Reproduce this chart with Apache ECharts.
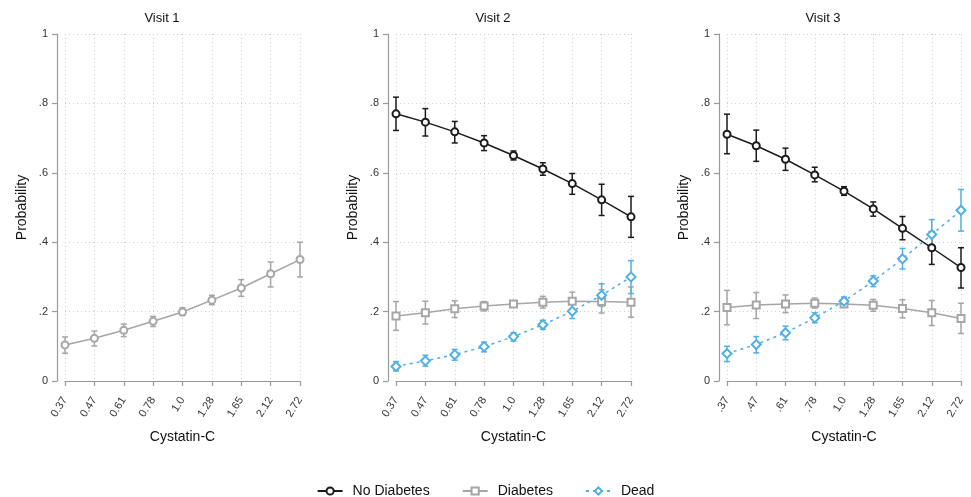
<!DOCTYPE html>
<html>
<head>
<meta charset="utf-8">
<script src="https://cdn.jsdelivr.net/npm/echarts@6/dist/echarts.min.js"></script>
<style>
html,body{margin:0;padding:0;background:#fff;}
#chart{width:971px;height:497px;}
</style>
</head>
<body>
<div id="chart"></div>
<script>
// ---- Data ----
const catsV12 = ['0.37','0.47','0.61','0.78','1.0','1.28','1.65','2.12','2.72'];
const catsV3  = ['.37','.47','.61','.78','1.0','1.28','1.65','2.12','2.72'];
const yTickLabels = ['0','.2','.4','.6','.8','1'];
const panelTitles = ['Visit 1','Visit 2','Visit 3'];
const seriesNames = ['No Diabetes','Diabetes','Dead'];

// Visit 1 (single grey series)
const v1Est  = [0.104,0.123,0.146,0.172,0.199,0.233,0.268,0.309,0.350];
const v1Low  = [0.080,0.101,0.128,0.157,0.189,0.220,0.244,0.271,0.300];
const v1High = [0.127,0.144,0.164,0.186,0.211,0.247,0.292,0.343,0.400];

// Visit 2
const v2NoDiabEst  = [0.770,0.746,0.718,0.686,0.650,0.611,0.569,0.522,0.473];
const v2NoDiabLow  = [0.722,0.706,0.686,0.664,0.637,0.593,0.538,0.477,0.414];
const v2NoDiabHigh = [0.818,0.785,0.748,0.707,0.663,0.629,0.598,0.567,0.532];
const v2DiabEst    = [0.187,0.197,0.208,0.216,0.222,0.227,0.230,0.229,0.227];
const v2DiabLow    = [0.146,0.164,0.183,0.202,0.214,0.210,0.204,0.196,0.184];
const v2DiabHigh   = [0.229,0.230,0.231,0.229,0.231,0.244,0.256,0.263,0.271];
const v2DeadEst    = [0.042,0.058,0.076,0.099,0.128,0.162,0.201,0.247,0.300];
const v2DeadLow    = [0.029,0.043,0.060,0.084,0.115,0.149,0.180,0.216,0.252];
const v2DeadHigh   = [0.056,0.074,0.091,0.112,0.139,0.175,0.223,0.280,0.347];

// Visit 3
const v3NoDiabEst  = [0.711,0.678,0.639,0.594,0.547,0.496,0.440,0.384,0.327];
const v3NoDiabLow  = [0.655,0.633,0.607,0.574,0.535,0.475,0.407,0.336,0.268];
const v3NoDiabHigh = [0.769,0.723,0.671,0.616,0.560,0.516,0.474,0.430,0.384];
const v3DiabEst    = [0.212,0.219,0.222,0.224,0.222,0.218,0.209,0.197,0.180];
const v3DiabLow    = [0.162,0.180,0.197,0.210,0.214,0.201,0.182,0.160,0.137];
const v3DiabHigh   = [0.261,0.255,0.248,0.239,0.230,0.235,0.234,0.232,0.224];
const v3DeadEst    = [0.079,0.105,0.139,0.182,0.230,0.288,0.352,0.422,0.492];
const v3DeadLow    = [0.056,0.081,0.119,0.168,0.218,0.272,0.323,0.379,0.432];
const v3DeadHigh   = [0.100,0.128,0.158,0.197,0.242,0.303,0.382,0.465,0.552];

// ---- Styles ----
const COL_BLACK = '#1b1b1b';
const COL_GREY  = '#a6a6a6';
const COL_BLUE  = '#4fb0e6';
const AXIS_COL  = '#9a9a9a';
const TEXT_COL  = '#333333';
const FONT = 'Liberation Sans, Arial, sans-serif';

const panels = [
  {left: 65,  width: 235, titleX: 157, cats: catsV12},
  {left: 396, width: 235, titleX: 488, cats: catsV12},
  {left: 727, width: 234, titleX: 818, cats: catsV3}
];

const grids = [], xAxes = [], yAxes = [], titles = [];
panels.forEach((p, i) => {
  grids.push({left: p.left, width: p.width, top: 34, bottom: 116, containLabel: false});
  titles.push({
    text: panelTitles[i], left: p.titleX, top: 7, textAlign: 'center',
    textStyle: {fontFamily: FONT, fontSize: 13, fontWeight: 'normal', color: '#111'}
  });
  xAxes.push({
    gridIndex: i, type: 'category', data: p.cats, boundaryGap: false, offset: 8,
    name: 'Cystatin-C', nameLocation: 'middle', nameGap: 41,
    nameTextStyle: {fontFamily: FONT, fontSize: 14, color: '#111'},
    axisLine: {show: true, lineStyle: {color: AXIS_COL, width: 1.2}},
    axisTick: {show: true, length: 5, alignWithLabel: true, lineStyle: {color: AXIS_COL, width: 1.2}},
    axisLabel: {rotate: 58, fontFamily: FONT, fontSize: 11, color: TEXT_COL, margin: 9, interval: 0},
    splitLine: {show: true, lineStyle: {color: '#d0d0d0', type: [1, 3], width: 1}}
  });
  yAxes.push({
    gridIndex: i, type: 'value', min: 0, max: 1, interval: 0.2, offset: 8,
    name: 'Probability', nameLocation: 'middle', nameGap: 28,
    nameTextStyle: {fontFamily: FONT, fontSize: 14, color: '#111'},
    axisLine: {show: true, lineStyle: {color: AXIS_COL, width: 1.2}},
    axisTick: {show: true, length: 5, lineStyle: {color: AXIS_COL, width: 1.2}},
    axisLabel: {
      fontFamily: FONT, fontSize: 11, color: TEXT_COL, margin: 9,
      formatter: v => yTickLabels[Math.round(v / 0.2)]
    },
    splitLine: {show: true, lineStyle: {color: '#d0d0d0', type: [1, 3], width: 1}}
  });
});

function errorBars(idx, low, high, color) {
  return {
    type: 'custom', xAxisIndex: idx, yAxisIndex: idx, z: 2, silent: true,
    data: low.map((l, k) => [k, l, high[k]]),
    encode: {x: 0, y: [1, 2]},
    renderItem: (params, api) => {
      const lo = api.coord([api.value(0), api.value(1)]);
      const hi = api.coord([api.value(0), api.value(2)]);
      const w = 3;
      const st = {stroke: color, lineWidth: 1.5};
      return {
        type: 'group',
        children: [
          {type: 'line', shape: {x1: lo[0], y1: lo[1], x2: hi[0], y2: hi[1]}, style: st},
          {type: 'line', shape: {x1: lo[0] - w, y1: lo[1], x2: lo[0] + w, y2: lo[1]}, style: st},
          {type: 'line', shape: {x1: hi[0] - w, y1: hi[1], x2: hi[0] + w, y2: hi[1]}, style: st}
        ]
      };
    }
  };
}

function lineSeries(name, idx, est, color, symbol, size, dashed) {
  return {
    name: name, type: 'line', xAxisIndex: idx, yAxisIndex: idx, z: 3,
    data: est, symbol: symbol, symbolSize: size, showAllSymbol: true,
    lineStyle: {color: color, width: 1.5, type: dashed ? [3, 4] : 'solid'},
    itemStyle: {color: color, borderColor: color, borderWidth: 1.5},
    emphasis: {disabled: true}
  };
}

const series = [
  errorBars(1, v2NoDiabLow, v2NoDiabHigh, COL_BLACK),
  lineSeries('No Diabetes', 1, v2NoDiabEst, COL_BLACK, 'emptyCircle', 7, false),
  errorBars(1, v2DiabLow, v2DiabHigh, COL_GREY),
  lineSeries('Diabetes', 1, v2DiabEst, COL_GREY, 'emptyRect', 7, false),
  errorBars(1, v2DeadLow, v2DeadHigh, COL_BLUE),
  lineSeries('Dead', 1, v2DeadEst, COL_BLUE, 'emptyDiamond', 9, true),

  errorBars(0, v1Low, v1High, COL_GREY),
  lineSeries('Visit 1 estimate', 0, v1Est, COL_GREY, 'emptyCircle', 7, false),

  errorBars(2, v3NoDiabLow, v3NoDiabHigh, COL_BLACK),
  lineSeries('No Diabetes', 2, v3NoDiabEst, COL_BLACK, 'emptyCircle', 7, false),
  errorBars(2, v3DiabLow, v3DiabHigh, COL_GREY),
  lineSeries('Diabetes', 2, v3DiabEst, COL_GREY, 'emptyRect', 7, false),
  errorBars(2, v3DeadLow, v3DeadHigh, COL_BLUE),
  lineSeries('Dead', 2, v3DeadEst, COL_BLUE, 'emptyDiamond', 9, true)
];

const chart = echarts.init(document.getElementById('chart'), null, {renderer: 'canvas'});
chart.setOption({
  animation: false,
  backgroundColor: '#ffffff',
  title: titles,
  grid: grids,
  xAxis: xAxes,
  yAxis: yAxes,
  legend: {
    data: seriesNames, top: 479, left: 'center',
    itemWidth: 25, itemHeight: 9, itemGap: 32,
    textStyle: {fontFamily: FONT, fontSize: 14, color: '#111', padding: [0, 0, 0, 5]}
  },
  series: series
});
</script>
</body>
</html>
